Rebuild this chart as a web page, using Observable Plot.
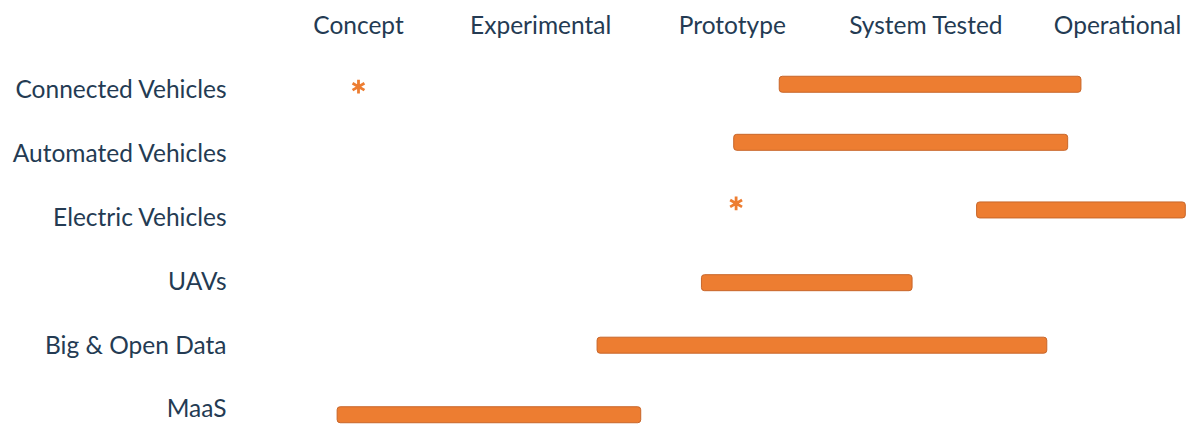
<!DOCTYPE html>
<html>
<head>
<meta charset="utf-8">
<script src="https://cdn.jsdelivr.net/npm/d3@7"></script>
<script src="https://cdn.jsdelivr.net/npm/@observablehq/plot@0.6"></script>
<style>
  html, body { margin: 0; padding: 0; background: #fff; }
  #chart svg { display: block; }
</style>
</head>
<body>
<div id="chart"></div>
<script>
// Stage names (header) and their estimated positions on the maturity axis
const stages = ["Concept", "Experimental", "Prototype", "System Tested", "Operational"];
const stagePos = [0, 0.96, 1.97, 2.99, 4];

// Row categories (row index 0..5 top to bottom)
const categories = ["Connected Vehicles", "Automated Vehicles", "Electric Vehicles", "UAVs", "Big & Open Data", "MaaS"];
const rowIndex = [0, 1, 2, 3, 4, 5];

// Bars: start / end on the maturity axis, and estimated vertical row position
const barStart = [2.22, 1.98, 3.26, 1.81, 1.26, -0.11];
const barEnd   = [3.81, 3.74, 4.36, 2.92, 3.63, 1.49];
const barRow   = [-0.09, 0.82, 1.88, 3.02, 4.0, 5.09];

// Asterisk markers
const starCategory = ["Connected Vehicles", "Electric Vehicles"];
const starPos = [0, 1.99];
const starRow = [-0.06, 1.77];

const bars = categories.map((c, i) => ({category: c, x1: barStart[i], x2: barEnd[i], y: barRow[i]}));
const stars = starCategory.map((c, i) => ({category: c, x: starPos[i], y: starRow[i]}));

const textColor = "#243b53";
const orange = "#ed7d31";

const chart = Plot.plot({
  width: 1189,
  height: 426,
  marginTop: 35,
  marginLeft: 232,
  marginRight: 0,
  marginBottom: 0,
  style: {fontFamily: "Lato, 'Open Sans', sans-serif", fontSize: "24.5px", color: textColor, background: "#fff"},
  x: {domain: [0, 4], range: [358, 1117]},
  y: {domain: [0, 5], range: [90, 409]},
  marks: [
    Plot.axisX({anchor: "top", ticks: stagePos, tickFormat: (d, i) => stages[i], tickSize: 0, tickPadding: 2, fontSize: 24.5, fill: textColor, label: null}),
    Plot.axisY({anchor: "left", ticks: rowIndex, tickFormat: (d, i) => categories[i], tickSize: 0, tickPadding: 6, fontSize: 24.5, fill: textColor, label: null}),
    Plot.rect(bars, {x1: "x1", x2: "x2", y1: "y", y2: "y", insetTop: -8, insetBottom: -8, rx: 3, fill: orange, stroke: "#c8662a", strokeWidth: 1}),
    Plot.dot(stars, {x: "x", y: "y", symbol: "asterisk", r: 6.5, stroke: orange, strokeWidth: 2.8})
  ]
});
document.getElementById("chart").appendChild(chart);
</script>
</body>
</html>
